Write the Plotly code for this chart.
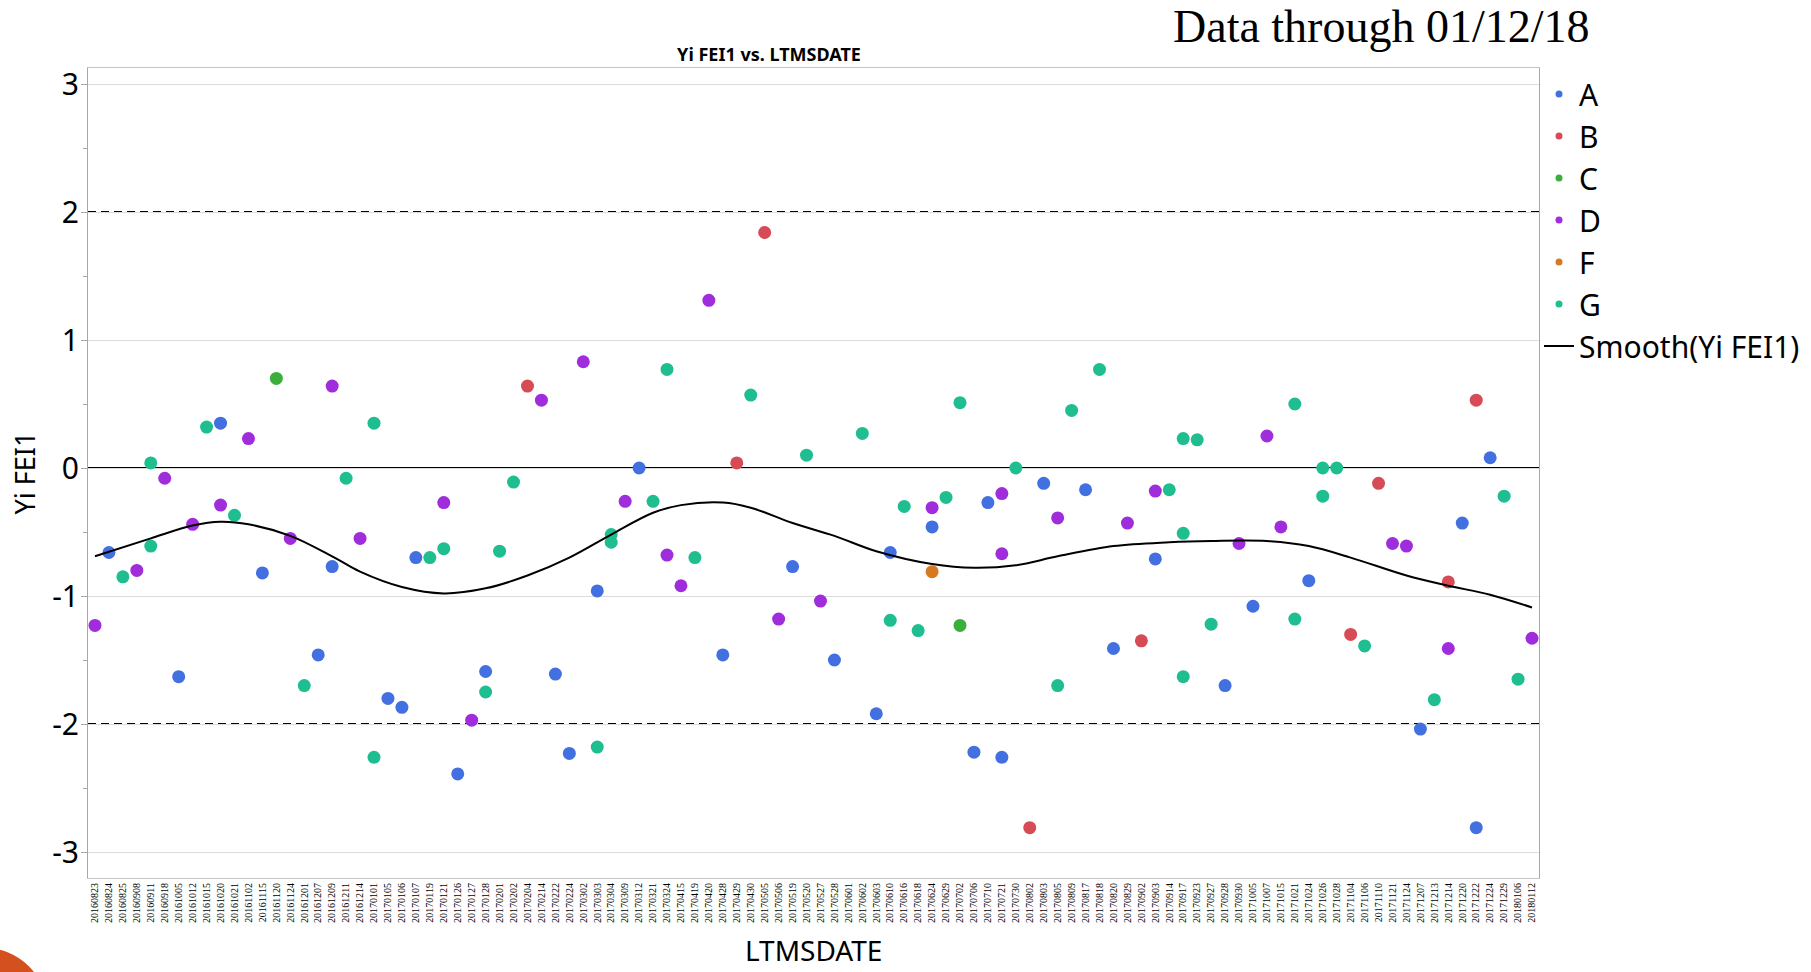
import plotly.graph_objects as go

# Category axis: measurement dates
dates = [
    "20160823", "20160824", "20160825", "20160908", "20160911", "20160918", "20161005", "20161012",
    "20161015", "20161020", "20161021", "20161102", "20161115", "20161120", "20161124", "20161201",
    "20161207", "20161209", "20161211", "20161214", "20170101", "20170105", "20170106", "20170107",
    "20170119", "20170121", "20170126", "20170127", "20170128", "20170201", "20170202", "20170204",
    "20170214", "20170222", "20170224", "20170302", "20170303", "20170304", "20170309", "20170312",
    "20170321", "20170324", "20170415", "20170419", "20170420", "20170428", "20170429", "20170430",
    "20170505", "20170506", "20170519", "20170520", "20170527", "20170528", "20170601", "20170602",
    "20170603", "20170610", "20170616", "20170618", "20170624", "20170629", "20170702", "20170706",
    "20170710", "20170721", "20170730", "20170802", "20170803", "20170805", "20170809", "20170817",
    "20170818", "20170820", "20170829", "20170902", "20170903", "20170914", "20170917", "20170923",
    "20170927", "20170928", "20170930", "20171005", "20171007", "20171015", "20171021", "20171024",
    "20171026", "20171028", "20171104", "20171106", "20171110", "20171121", "20171124", "20171207",
    "20171213", "20171214", "20171220", "20171222", "20171224", "20171229", "20180106", "20180112",
]

a_dates = ["20160824", "20161005", "20161020", "20161115", "20161207", "20161209", "20170105", "20170106",
           "20170107", "20170126", "20170128", "20170222", "20170224", "20170303", "20170312", "20170428",
           "20170519", "20170528", "20170603", "20170610", "20170624", "20170706", "20170710", "20170721",
           "20170803", "20170817", "20170820", "20170903", "20170928", "20171005", "20171024", "20171207",
           "20171220", "20171222", "20171224"]
a_vals = [-0.66, -1.63, 0.35, -0.82, -1.46, -0.77, -1.80, -1.87,
          -0.70, -2.39, -1.59, -1.61, -2.23, -0.96, 0.00, -1.46,
          -0.77, -1.50, -1.92, -0.66, -0.46, -2.22, -0.27, -2.26,
          -0.12, -0.17, -1.41, -0.71, -1.70, -1.08, -0.88, -2.04,
          -0.43, -2.81, 0.08]

b_dates = ["20170204", "20170429", "20170505", "20170802", "20170902", "20171104", "20171110", "20171214",
           "20171222"]
b_vals = [0.64, 0.04, 1.84, -2.81, -1.35, -1.30, -0.12, -0.89, 0.53]

c_dates = ["20161120", "20170702"]
c_vals = [0.70, -1.23]

d_dates = ["20160823", "20160908", "20160918", "20161012", "20161020", "20161102", "20161124", "20161209",
           "20161214", "20170121", "20170127", "20170214", "20170302", "20170309", "20170324", "20170415",
           "20170420", "20170506", "20170527", "20170624", "20170721", "20170721", "20170805", "20170829",
           "20170903", "20170930", "20171007", "20171015", "20171121", "20171124", "20171214", "20180112"]
d_vals = [-1.23, -0.80, -0.08, -0.44, -0.29, 0.23, -0.55, 0.64,
          -0.55, -0.27, -1.97, 0.53, 0.83, -0.26, -0.68, -0.92,
          1.31, -1.18, -1.04, -0.31, -0.20, -0.67, -0.39, -0.43,
          -0.18, -0.59, 0.25, -0.46, -0.59, -0.61, -1.41, -1.33]

f_dates = ["20170624"]
f_vals = [-0.81]

g_dates = ["20160825", "20160911", "20160911", "20161015", "20161021", "20161201", "20161211", "20170101",
           "20170101", "20170119", "20170121", "20170128", "20170201", "20170202", "20170303", "20170304",
           "20170304", "20170321", "20170324", "20170419", "20170430", "20170520", "20170602", "20170610",
           "20170616", "20170618", "20170629", "20170702", "20170730", "20170805", "20170809", "20170818",
           "20170914", "20170917", "20170917", "20170917", "20170923", "20170927", "20171021", "20171021",
           "20171026", "20171026", "20171028", "20171106", "20171213", "20171229", "20180106"]
g_vals = [-0.85, 0.04, -0.61, 0.32, -0.37, -1.70, -0.08, 0.35,
          -2.26, -0.70, -0.63, -1.75, -0.65, -0.11, -2.18, -0.52,
          -0.58, -0.26, 0.77, -0.70, 0.57, 0.10, 0.27, -1.19,
          -0.30, -1.27, -0.23, 0.51, 0.00, -1.70, 0.45, 0.77,
          -0.17, 0.23, -0.51, -1.63, 0.22, -1.22, 0.50, -1.18,
          -0.22, 0.00, 0.00, -1.39, -1.81, -0.22, -1.65]

# Smoother through Yi FEI1
smooth_dates = ["20160823", "20160911", "20161012", "20161020", "20161102", "20161124", "20161209",
                "20161214", "20170106", "20170121", "20170128", "20170204", "20170224", "20170304",
                "20170321", "20170415", "20170428", "20170430", "20170519", "20170528", "20170603",
                "20170624", "20170706", "20170730", "20170805", "20170820", "20170914", "20170927",
                "20171007", "20171024", "20171104", "20171124", "20171214", "20171224", "20180112"]
smooth_vals = [-0.69, -0.55, -0.45, -0.42, -0.44, -0.53, -0.69,
               -0.81, -0.93, -0.98, -0.94, -0.84, -0.70, -0.52,
               -0.35, -0.29, -0.27, -0.31, -0.43, -0.53, -0.65,
               -0.75, -0.78, -0.76, -0.69, -0.61, -0.58, -0.57,
               -0.57, -0.61, -0.70, -0.84, -0.92, -0.99, -1.09]

y_ticks = [-3, -2, -1, 0, 1, 2, 3]
y_ticktext = ["-3", "-2", "-1", "0", "1", "2", "3"]

groups = [
    ("A", a_dates, a_vals, "#4270e0"),
    ("B", b_dates, b_vals, "#d64b55"),
    ("C", c_dates, c_vals, "#3cae3c"),
    ("D", d_dates, d_vals, "#a02ddc"),
    ("F", f_dates, f_vals, "#d77823"),
    ("G", g_dates, g_vals, "#1fbe91"),
]

# Plot-area geometry in pixels
PLOT_L, PLOT_R, PLOT_T, PLOT_B = 88, 1539, 68, 878
PLOT_W, PLOT_H = PLOT_R - PLOT_L, PLOT_B - PLOT_T

fig = go.Figure()

for name, xs, ys, color in groups:
    fig.add_trace(go.Scatter(
        x=xs, y=ys, mode="markers", name=name, showlegend=False,
        marker=dict(size=13, color=color, line=dict(width=0)),
    ))

fig.add_trace(go.Scatter(
    x=smooth_dates, y=smooth_vals, mode="lines", name="Smooth(Yi FEI1)", showlegend=False,
    line=dict(color="black", width=2, shape="spline", smoothing=1.0),
))

# Legend entries with small dots
for name, xs, ys, color in groups:
    fig.add_trace(go.Scatter(
        x=[None], y=[None], mode="markers", name=name, legendgroup=name,
        marker=dict(size=7, color=color),
    ))
fig.add_trace(go.Scatter(
    x=[None], y=[None], mode="lines", name="Smooth(Yi FEI1)", legendgroup="smooth",
    line=dict(color="black", width=2),
))

# Limit lines and centre line, between the grid and the markers
for yv, dash in [(2, "8px,5px"), (-2, "8px,5px"), (0, "solid")]:
    fig.add_shape(type="line", xref="paper", yref="y", x0=0, x1=1, y0=yv, y1=yv,
                  line=dict(color="black", width=2, dash=dash), layer="between")

# Decorative corner disc
fig.add_shape(type="circle", xref="paper", yref="paper",
              xsizemode="pixel", ysizemode="pixel",
              xanchor=(-15 - PLOT_L) / PLOT_W, yanchor=(PLOT_B - 1010) / PLOT_H,
              x0=-62, x1=62, y0=-62, y1=62,
              fillcolor="#d4501e", line=dict(width=0))

fig.add_annotation(
    text="Data through 01/12/18", xref="paper", yref="paper",
    x=(1381 - PLOT_L) / PLOT_W, y=(PLOT_B - 26) / PLOT_H, xanchor="center", yanchor="middle",
    showarrow=False, font=dict(family="Liberation Serif", size=46, color="black"),
)

# X axis title
fig.add_annotation(
    text="LTMSDATE", xref="paper", yref="paper",
    x=0.5, y=(PLOT_B - 971) / PLOT_H, xanchor="center", yanchor="bottom",
    showarrow=False, font=dict(family="Noto Sans", size=28, color="black"),
)

fig.update_layout(
    width=1811, height=972,
    template="none",
    paper_bgcolor="white", plot_bgcolor="white",
    margin=dict(l=PLOT_L, r=1811 - PLOT_R, t=PLOT_T, b=972 - PLOT_B, pad=0, autoexpand=False),
    title=dict(text="<b>Yi FEI1 vs. LTMSDATE</b>", x=769 / 1811, xanchor="center",
               y=1 - 55 / 972, yanchor="middle", yref="container",
               font=dict(family="Noto Sans", size=18, color="black")),
    font=dict(family="Noto Sans", color="black"),
    legend=dict(x=1.0, xanchor="left", y=1.0, yanchor="top",
                font=dict(family="Noto Sans", size=30, color="black"),
                tracegroupgap=0, bgcolor="rgba(0,0,0,0)", borderwidth=0),
    xaxis=dict(
        type="category", categoryorder="array", categoryarray=dates,
        range=[-0.5, len(dates) - 0.5],
        tickangle=-90, tickfont=dict(family="Liberation Serif", size=10, color="black"),
        showgrid=False, zeroline=False, ticks="",
        showline=True, linecolor="#c4c4c4", linewidth=1, mirror=True,
        automargin=False, fixedrange=True,
    ),
    yaxis=dict(
        range=[-3.203125, 3.125],
        tickmode="array", tickvals=y_ticks, ticktext=y_ticktext,
        tickfont=dict(family="Noto Sans", size=30, color="black"),
        ticklabelstandoff=-4,
        showgrid=True, gridcolor="#dcdcdc", gridwidth=1, zeroline=False,
        showline=True, linecolor="#a8a8a8", linewidth=1, mirror=True,
        ticks="outside", ticklen=6, tickcolor="#a8a8a8",
        minor=dict(tickmode="array", tickvals=[-2.5, -1.5, -0.5, 0.5, 1.5, 2.5],
                   ticks="outside", ticklen=4, tickcolor="#a8a8a8", showgrid=False),
        title=dict(text="Yi FEI1", font=dict(family="Noto Sans", size=27, color="black"), standoff=8),
        automargin=False, fixedrange=True,
    ),
)

fig.write_html("out.html")
